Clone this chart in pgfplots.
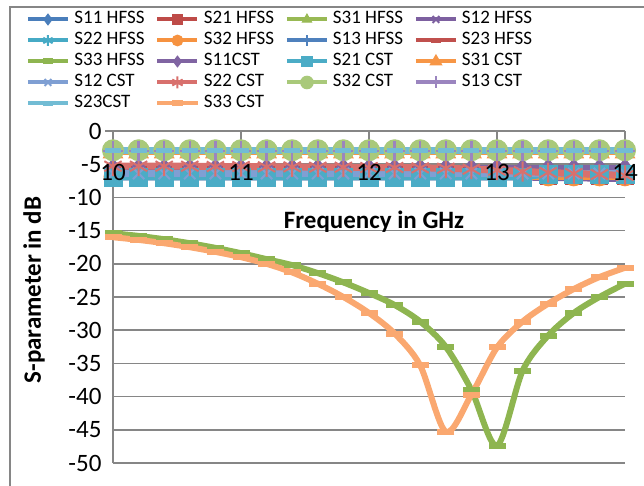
\documentclass[border=0pt]{standalone}
\usepackage{pgfplots}
\pgfplotsset{compat=1.18}
\usepackage{pgfplotstable}
\usepackage{fontspec}
\setmainfont{Carlito}
\usetikzlibrary{plotmarks}

\definecolor{axgray}{HTML}{868686}
\definecolor{hA}{HTML}{4A7EBB}
\definecolor{hB}{HTML}{BE4B48}
\definecolor{hC}{HTML}{98B954}
\definecolor{hD}{HTML}{7D60A0}
\definecolor{hE}{HTML}{46AAC5}
\definecolor{hF}{HTML}{F69240}
\definecolor{hG}{HTML}{4F81BD}
\definecolor{hH}{HTML}{C0504D}
\definecolor{hI}{HTML}{8EB550}
\definecolor{cA}{HTML}{8064A2}
\definecolor{cB}{HTML}{4BACC6}
\definecolor{cC}{HTML}{F79646}
\definecolor{cD}{HTML}{7F9FD3}
\definecolor{cE}{HTML}{D8706D}
\definecolor{cF}{HTML}{A9C97A}
\definecolor{cG}{HTML}{9B85BF}
\definecolor{cH}{HTML}{72BCD4}
\definecolor{cI}{HTML}{FAA870}

\newcommand{\ticksize}{\fontsize{25}{30}\selectfont}
\newcommand{\legsize}{\fontsize{19}{22}\selectfont}
\newcommand{\legent}[1]{\addlegendentry{\makebox[81pt][l]{#1}}}

\pgfplotstableread{
f    s11h s21h s31h s12h s22h s32h s13h s23h
10.0 -6.6 -6.9 -6.7 -7.0 -6.6 -6.9 -6.5 -5.6
10.2 -6.6 -6.9 -6.7 -7.0 -6.6 -6.9 -6.5 -5.6
10.4 -6.6 -6.9 -6.7 -7.0 -6.6 -6.9 -6.5 -5.6
10.6 -6.6 -6.9 -6.7 -7.0 -6.6 -6.9 -6.5 -5.6
10.8 -6.6 -6.9 -6.7 -7.0 -6.6 -6.9 -6.5 -5.6
11.0 -6.6 -6.9 -6.7 -7.0 -6.6 -6.9 -6.5 -5.6
11.2 -6.6 -6.9 -6.7 -7.0 -6.6 -6.9 -6.5 -5.6
11.4 -6.6 -6.9 -6.7 -7.0 -6.6 -6.9 -6.5 -5.6
11.6 -6.6 -6.9 -6.7 -7.0 -6.6 -6.9 -6.5 -5.6
11.8 -6.6 -6.9 -6.7 -7.0 -6.6 -6.9 -6.5 -5.6
12.0 -6.6 -6.9 -6.7 -7.0 -6.6 -6.9 -6.5 -5.6
12.2 -6.6 -6.9 -6.7 -7.0 -6.6 -6.9 -6.5 -5.6
12.4 -6.6 -6.9 -6.7 -7.0 -6.6 -6.9 -6.5 -5.6
12.6 -6.6 -6.9 -6.7 -7.0 -6.6 -6.9 -6.5 -5.7
12.8 -6.6 -6.9 -6.7 -7.0 -6.6 -6.9 -6.5 -5.8
13.0 -6.6 -6.9 -6.7 -7.0 -6.6 -6.9 -6.5 -5.9
13.2 -6.6 -6.9 -6.7 -7.0 -6.6 -6.9 -6.5 -6.1
13.4 -6.6 -6.9 -6.7 -7.1 -6.6 -6.9 -6.5 -6.2
13.6 -6.6 -6.9 -6.7 -7.1 -6.6 -6.9 -6.5 -6.4
13.8 -6.6 -6.9 -6.7 -7.2 -6.6 -6.9 -6.5 -6.5
14.0 -6.6 -6.9 -6.7 -7.2 -6.6 -6.9 -6.5 -6.6
}\flatH

\pgfplotstableread{
f    s11c s21c s31c s12c s22c  s32c s13c s23c
10.0 -5.5 -7.0 -3.2 -6.4 -5.30 -2.9 -3.0 -3.0
10.2 -5.5 -7.0 -3.2 -6.4 -5.30 -2.9 -3.0 -3.0
10.4 -5.5 -7.0 -3.2 -6.4 -5.30 -2.9 -3.0 -3.0
10.6 -5.5 -7.0 -3.2 -6.4 -5.30 -2.9 -3.0 -3.0
10.8 -5.5 -7.0 -3.2 -6.4 -5.35 -2.9 -3.0 -3.0
11.0 -5.5 -7.0 -3.2 -6.4 -5.35 -2.9 -3.0 -3.0
11.2 -5.5 -7.0 -3.2 -6.4 -5.40 -2.9 -3.0 -3.0
11.4 -5.5 -7.0 -3.2 -6.4 -5.40 -2.9 -3.0 -3.0
11.6 -5.5 -7.0 -3.2 -6.4 -5.45 -2.9 -3.0 -3.0
11.8 -5.5 -7.0 -3.2 -6.4 -5.45 -2.9 -3.0 -3.0
12.0 -5.5 -7.0 -3.2 -6.4 -5.50 -2.9 -3.0 -3.0
12.2 -5.5 -7.0 -3.2 -6.4 -5.50 -2.9 -3.0 -3.0
12.4 -5.5 -7.0 -3.2 -6.4 -5.55 -2.9 -3.0 -3.0
12.6 -5.5 -7.0 -3.2 -6.4 -5.60 -2.9 -3.0 -3.0
12.8 -5.5 -7.0 -3.2 -6.4 -5.75 -2.9 -3.0 -3.0
13.0 -5.5 -7.0 -3.2 -6.4 -5.90 -2.9 -3.0 -3.0
13.2 -5.5 -7.0 -3.2 -6.4 -6.10 -2.9 -3.0 -3.0
13.4 -5.5 -6.5 -3.2 -6.4 -6.25 -2.9 -3.0 -3.0
13.6 -5.5 -6.5 -3.2 -6.4 -6.40 -2.9 -3.0 -3.0
13.8 -5.5 -6.5 -3.2 -6.4 -6.55 -2.9 -3.0 -3.0
14.0 -5.5 -6.5 -3.2 -6.4 -6.70 -2.9 -3.0 -3.0
}\flatC

\pgfplotstableread{
f    s33h   s33c
10.0 -15.4 -16.0
10.2 -15.8 -16.4
10.4 -16.3 -16.9
10.6 -16.9 -17.5
10.8 -17.6 -18.2
11.0 -18.4 -19.0
11.2 -19.3 -20.0
11.4 -20.2 -21.3
11.6 -21.4 -23.0
11.8 -22.8 -25.0
12.0 -24.4 -27.4
12.2 -26.2 -30.5
12.4 -28.7 -35.3
12.6 -32.5 -45.3
12.8 -39.0 -39.7
13.0 -47.4 -32.6
13.2 -36.1 -28.7
13.4 -30.8 -26.0
13.6 -27.4 -23.8
13.8 -25.0 -22.0
14.0 -23.0 -20.6
}\sthree

\begin{document}
\begin{tikzpicture}[x=1pt,y=1pt]
\useasboundingbox (0,0) rectangle (644,-486);
\draw[line width=1.5pt, color=axgray] (10,-560) -- (10,-7) -- (720,-7);
\begin{axis}[
  at={(113pt,-463pt)}, anchor=south west,
  scale only axis, width=512pt, height=332pt,
  xmin=10, xmax=14, ymin=-50, ymax=0,
  clip=false,
  axis x line*=top, axis y line*=left,
  xtick={10,11,12,13,14}, xticklabels={},
  ytick={-50,-45,-40,-35,-30,-25,-20,-15,-10,-5,0},
  tick align=inside,
  major tick length=9pt,
  ymajorgrids,
  major grid style={line width=1.5pt, color=axgray, shorten <=-8pt},
  axis line style={line width=1.5pt, color=axgray},
  tick style={line width=1.5pt, color=axgray},
  /pgf/number format/assume math mode=true,
  yticklabel style={font=\ticksize, xshift=-8pt},
  legend columns=4,
  legend cell align=left,
  legend image code/.code={
    \draw[mark repeat=2,mark phase=2,#1,line width=4pt, every mark/.append style={scale=0.6}]
      plot coordinates {(0pt,0pt) (20pt,0pt) (40pt,0pt)};
    \path (43pt,0pt);
  },
  legend style={at={(axis description cs:-0.170,1.3645)}, anchor=north west,
    draw=none, fill=none, inner sep=0pt, outer sep=0pt,
    column sep=0pt, row sep=2pt, font=\legsize,
    nodes={inner sep=0pt, text height=14pt, text depth=5pt},
    cells={anchor=west}},
]
% HFSS flat
\addplot[hA, line width=6pt, mark=diamond*, mark size=9pt, mark options={solid, fill=hA, line width=1pt}] table[x=f,y=s11h]{\flatH}; \legent{S11 HFSS}
\addplot[hB, line width=6pt, mark=square*, mark size=8pt, mark options={solid, fill=hB, line width=1pt}] table[x=f,y=s21h]{\flatH}; \legent{S21 HFSS}
\addplot[hC, line width=6pt, mark=triangle*, mark size=9pt, mark options={solid, fill=hC, line width=1pt}] table[x=f,y=s31h]{\flatH}; \legent{S31 HFSS}
\addplot[hD, line width=6pt, mark=x, mark size=8pt, mark options={solid, line width=2pt}] table[x=f,y=s12h]{\flatH}; \legent{S12 HFSS}
\addplot[hE, line width=6pt, mark=asterisk, mark size=9pt, mark options={solid, line width=2pt}] table[x=f,y=s22h]{\flatH}; \legent{S22 HFSS}
\addplot[hF, line width=6pt, mark=*, mark size=9pt, mark options={solid, fill=hF, line width=1pt}] table[x=f,y=s32h]{\flatH}; \legent{S32 HFSS}
\addplot[hG, line width=6pt, mark=+, mark size=9pt, mark options={solid, line width=2.5pt}] table[x=f,y=s13h]{\flatH}; \legent{S13 HFSS}
\addplot[hH, line width=6pt, mark=-, mark size=8pt, mark options={solid, line width=5pt}] table[x=f,y=s23h]{\flatH}; \legent{S23 HFSS}
\addplot[hI, line width=6pt, smooth, mark=-, mark size=8.5pt, mark options={solid, line width=6pt}] table[x=f,y=s33h]{\sthree}; \legent{S33 HFSS}
% CST flat
\addplot[cA, line width=6pt, mark=diamond*, mark size=9pt, mark options={solid, fill=cA, line width=1pt}] table[x=f,y=s11c]{\flatC}; \legent{S11CST}
\addplot[cB, line width=6pt, mark=square*, mark size=9pt, mark options={solid, fill=cB, line width=1pt}] table[x=f,y=s21c]{\flatC}; \legent{S21 CST}
\addplot[cC, line width=6pt, mark=triangle*, mark size=11pt, mark options={solid, fill=cC, line width=1pt}] table[x=f,y=s31c]{\flatC}; \legent{S31 CST}
\addplot[cD, line width=7pt, mark=x, mark size=8pt, mark options={solid, line width=2pt}] table[x=f,y=s12c]{\flatC}; \legent{S12 CST}
\addplot[cE, line width=7pt, mark=asterisk, mark size=10pt, mark options={solid, line width=2pt}] table[x=f,y=s22c]{\flatC}; \legent{S22 CST}
\addplot[cF, line width=6pt, mark=*, mark size=10.5pt, mark options={solid, fill=cF, line width=1pt}] table[x=f,y=s32c]{\flatC}; \legent{S32 CST}
\addplot[cG, line width=6pt, mark=+, mark size=10pt, mark options={solid, line width=2.5pt}] table[x=f,y=s13c]{\flatC}; \legent{S13 CST}
\addplot[cH, line width=7pt, mark=-, mark size=8pt, mark options={solid, line width=5pt}] table[x=f,y=s23c]{\flatC}; \legent{S23CST}
\addplot[cI, line width=6pt, smooth, mark=-, mark size=8.5pt, mark options={solid, line width=6pt}] table[x=f,y=s33c]{\sthree}; \legent{S33 CST}
\end{axis}
% x tick labels, drawn over the series as in the reference
\node[font=\ticksize, anchor=base, inner sep=0pt] at (113,-181) {10};
\node[font=\ticksize, anchor=base, inner sep=0pt] at (241,-181) {11};
\node[font=\ticksize, anchor=base, inner sep=0pt] at (369,-181) {12};
\node[font=\ticksize, anchor=base, inner sep=0pt] at (497,-181) {13};
\node[font=\ticksize, anchor=base, inner sep=0pt] at (625,-181) {14};
\node[font=\ticksize\bfseries, anchor=base] at (374,-228) {Frequency in GHz};
\node[font=\ticksize\bfseries, rotate=90, anchor=center] at (34,-290) {S-parameter in dB};
\end{tikzpicture}
\end{document}
